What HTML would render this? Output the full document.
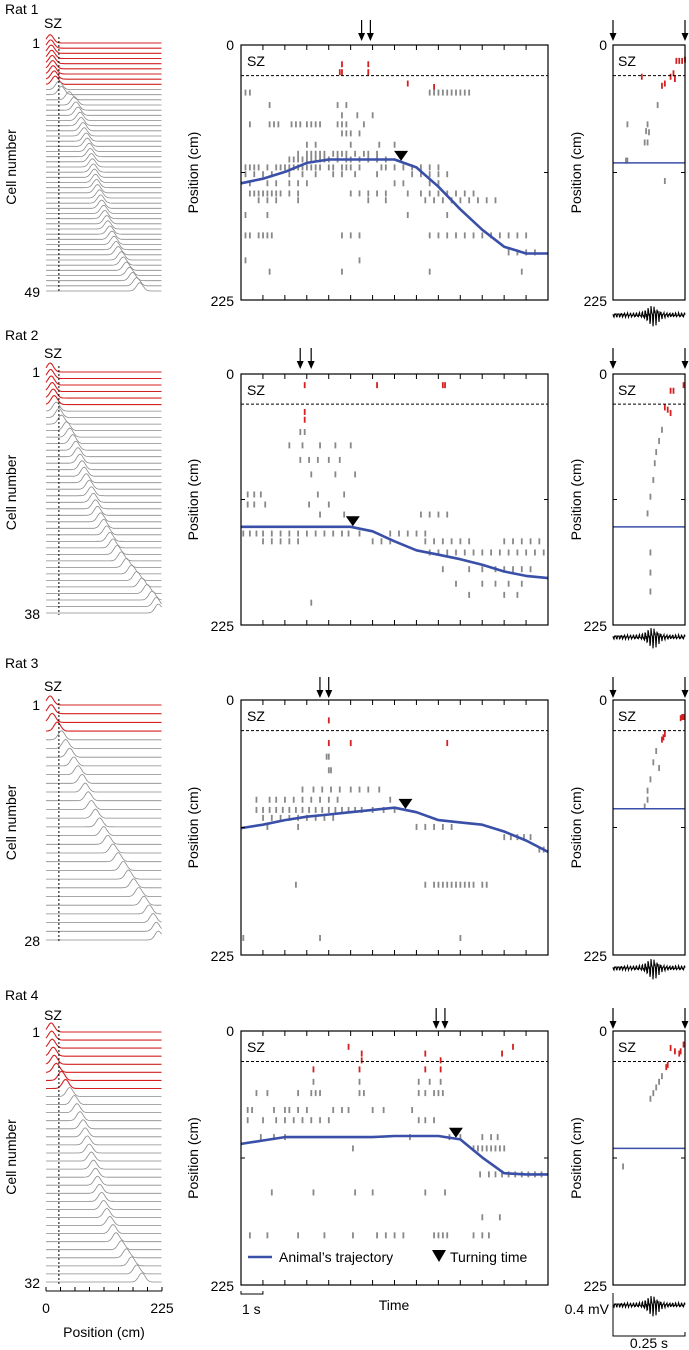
<!DOCTYPE html>
<html><head><meta charset="utf-8">
<style>
html,body{margin:0;padding:0;background:#fff;}
svg{display:block;font-family:"Liberation Sans",sans-serif;}
</style></head>
<body>
<svg id="fig" width="689" height="1350" viewBox="0 0 689 1350" xmlns="http://www.w3.org/2000/svg"></svg>
<script>
// ---------- DATA ----------
const ratNames = ["Rat 1","Rat 2","Rat 3","Rat 4"];
const cellCounts = [49,38,28,32];
const redCellCounts = [9,6,4,8];
const peaksRat1 = [8,9,10,11,12,13,14,16,18,25,30,45,55,58,62,66,68,72,74,78,80,84,86,88,90,92,94,96,98,100,104,106,108,112,114,118,120,124,128,132,136,140,146,150,156,162,168,176,182];
const peaksRat2 = [8,9,10,12,14,16,20,25,30,40,46,52,58,62,66,70,74,78,84,88,92,96,100,106,112,118,124,130,138,146,156,166,176,186,196,206,214,218];
const peaksRat3 = [8,10,12,22,30,38,46,54,62,70,76,82,88,96,104,112,120,130,140,150,160,170,180,190,200,208,214,218];
const peaksRat4 = [10,11,12,14,16,20,30,38,46,55,60,66,72,76,80,84,88,92,96,100,104,108,112,118,124,130,136,146,156,166,176,186];
const peaks = [peaksRat1,peaksRat2,peaksRat3,peaksRat4];
const trajTimes = [0,1,2,3,4,5,6,7,8,9,10,11,12,13,14];
const trajRat1 = [122,118,112,104,101,101,101,101,108,125,145,163,178,184,184];
const trajRat2 = [137,137,137,137,137,137,141,150,158,162,166,171,177,181,183];
const trajRat3 = [113,110,106,103,101,99,97,95,99,106,108,110,116,124,134];
const trajRat4 = [100,97,94,94,94,94,94,93,93,93,96,112,126,127,127];
const trajs = [trajRat1,trajRat2,trajRat3,trajRat4];
const turnTimes = [7.3,5.1,7.5,9.8];
const arrowTimes = [[5.5,5.9],[2.7,3.2],[3.6,4.0],[8.9,9.3]];
const spikesRat1 = [
[17,[4.6,5.8],'r'],[24,[4.5,4.6,5.8],'r'],[34,[7.6],'r'],[37,[8.8],'r'],
[42,[0.2,0.4,8.6,8.8,9.0,9.2,9.4,9.6,9.8,10.0,10.2,10.4]],
[53,[1.3,4.4,4.8]],[62,[4.6,5.3,6.0]],
[70,[0.4,1.3,1.5,1.7,2.3,2.5,2.7,3.0,3.2,3.4,3.6,4.4,4.6,4.8,5.6]],
[78,[4.6,4.8,5.0,5.4]],[88,[3.0,3.4,5.0,6.3,7.0]],
[96,[2.6,3.0,3.2,3.4,3.6,3.8,4.2,4.4,4.6,4.8,5.2,5.6,5.8,6.2]],
[101,[2.2,2.4,2.6,2.8,3.0,3.2,3.4,3.6,3.8,4.0,4.4,4.8,5.0,5.4,5.8,6.2,6.6]],
[108,[0.2,0.4,0.6,0.8,1.2,1.6,1.8,2.0,2.2,2.4,2.6,2.8,3.0,3.2,3.4,3.6,4.0,4.2,4.6,4.8,5.0,5.4,6.4,6.6,7.0,7.4,7.8,8.2,8.6,9.0]],
[114,[0.2,0.6,1.0,1.4,2.2,2.8,3.4,4.2,4.6,5.2,6.2,7.8,8.2,8.6,9.0,9.4]],
[122,[0.4,1.2,1.6,2.2,2.6,3.0,7.0,7.4,8.6,9.0]],
[131,[0.4,0.6,0.8,1.0,1.2,1.4,1.6,1.8,2.2,2.6,5.0,5.4,5.8,6.2,6.6,7.6,8.2,8.6,9.0,9.4,9.8,10.2,10.6]],
[137,[0.8,1.2,1.6,2.6,5.8,6.6,8.4,8.8,9.2,9.6,10.0,10.4,10.8,11.2,11.6]],
[150,[0.2,1.2,7.6,9.4]],
[168,[0.2,0.4,0.8,1.0,1.2,1.4,4.6,5.0,5.4,8.6,9.0,9.4,9.8,10.2,10.6,11.0,11.4,11.8,12.2,12.6,13.0]],
[183,[12.2,12.6,13.0,13.4]],[190,[0.2,5.4]],[200,[1.3,4.6,8.6,12.8]]];
const spikesRat2 = [
[10,[2.9,6.2,9.2,9.3],'r'],[34,[2.9],'r'],[41,[2.9],'r'],
[52,[2.7,2.9]],[64,[2.2,2.8,3.6,4.3,5.0]],[77,[2.7,3.1,3.5,4.0,4.5]],[90,[3.2,4.3,5.2]],
[108,[0.3,0.6,0.9,3.5,4.7]],[117,[0.3,0.6,1.1,3.1,4.0]],[126,[3.6,4.7,8.2,8.6,9.0,9.4]],
[143,[0.1,0.4,0.7,1.0,1.4,1.8,2.2,2.6,3.0,3.4,3.8,4.2,4.6,4.9,5.4,6.8,7.2,7.6,8.0,8.4]],
[150,[1.0,1.4,1.8,2.2,2.6,6.0,6.4,6.8,8.4,8.8,9.2,9.6,10.0,10.4,12.0,12.4,12.8,13.2,13.6]],
[160,[8.6,9.0,9.4,9.8,10.2,10.6,11.0,11.4,11.8,12.2,12.6,13.0,13.4,13.8]],
[175,[9.2,10.4,11.0,11.6,12.0,12.4,12.8,13.2]],[188,[9.8,11.0,11.6,12.2,12.8]],
[198,[10.4,12.0,12.6]],[205,[3.2]]];
const spikesRat3 = [
[18,[4.0],'r'],[38,[4.0,5.0,9.4],'r'],
[50,[3.9,4.0]],[62,[4.0,4.1]],
[79,[2.8,3.3,3.7,4.1,4.5,5.0,5.4,5.8,6.3]],
[88,[0.7,1.3,1.6,2.0,2.4,2.8,3.2,3.6,4.0,4.4,6.8]],
[97,[0.7,1.0,1.3,1.6,1.9,2.2,2.5,2.8,3.1,3.4,3.7,4.0,4.3,4.6,4.9,5.2,5.5,6.0,6.5,7.0]],
[104,[1.0,1.4,1.8,2.2,2.6,3.0,3.4,3.8,4.2]],
[112,[1.2,2.6,8.0,8.4,8.8,9.2,9.6]],[121,[12.0,12.3,12.6,12.9,13.2]],[132,[13.6,13.8]],
[163,[2.5,8.4,8.8,9.0,9.2,9.4,9.6,9.8,10.0,10.2,10.4,10.6,11.0,11.2]],
[210,[0.1,3.6,10.0]]];
const spikesRat4 = [
[14,[4.9,12.4],'r'],[20,[5.5,8.4,11.9],'r'],[26,[5.5,9.1],'r'],[34,[3.3,5.4,8.4,9.1],'r'],
[45,[3.3,5.4,8.1,8.6,9.1]],
[55,[0.7,1.2,2.6,3.2,3.4,3.6,5.4,5.6,8.1,8.4,8.8,9.0,9.2]],
[70,[0.3,0.5,1.5,2.0,2.2,2.6,3.0,4.2,4.6,4.9,6.0,6.5,7.8]],
[79,[0.3,1.0,1.6,2.0,2.4,2.8,3.2,3.6,4.0,8.1,8.4,8.8]],
[94,[0.9,1.5,2.0,7.7,9.5,10.0,11.0,11.4,11.7]],
[104,[10.6,10.8,11.0,11.2,11.4,11.6,11.8,12.0,5.1]],
[127,[10.9,11.3,11.6,11.9,12.2,12.5,12.8,13.1,13.4,13.7]],
[143,[1.4,3.3,5.2,6.0,8.4,9.3]],
[165,[11.0,11.8]],
[181,[0.4,1.2,2.6,3.8,5.1,6.2,6.6,7.0,7.4,8.8,9.0,9.2,9.4,10.6,11.0,11.3]]];
const spikes = [spikesRat1,spikesRat2,spikesRat3,spikesRat4];
const zoomRat1 = [[0.22,14,'r'],[0.23,14,'r'],[0.24,14,'r'],[0.25,13,'r'],[0.1,28,'r'],[0.2,28,'r'],[0.21,25,'r'],[0.215,30,'r'],[0.18,34,'r'],[0.17,36,'r'],[0.155,53],[0.05,70],[0.12,70],[0.115,76],[0.125,77],[0.11,86],[0.12,86],[0.045,102],[0.05,102],[0.18,120]];
const zoomRat2 = [[0.2,15,'r'],[0.21,15,'r'],[0.245,10,'r'],[0.18,30,'r'],[0.19,32,'r'],[0.2,35,'r'],[0.17,50],[0.16,60],[0.15,70],[0.145,80],[0.14,95],[0.13,110],[0.12,125],[0.13,160],[0.13,178],[0.13,195]];
const zoomRat3 = [[0.24,15,'r'],[0.245,15,'r'],[0.235,16,'r'],[0.17,35,'r'],[0.175,33,'r'],[0.18,30,'r'],[0.15,45],[0.14,55],[0.16,60],[0.13,70],[0.12,80],[0.12,88],[0.11,94]];
const zoomRat4 = [[0.2,15,'r'],[0.215,18,'r'],[0.235,18,'r'],[0.245,12,'r'],[0.23,20,'r'],[0.185,32,'r'],[0.19,30,'r'],[0.17,40],[0.16,45],[0.15,50],[0.14,55],[0.13,60],[0.035,120]];
const zooms = [zoomRat1,zoomRat2,zoomRat3,zoomRat4];
const zoomLinePos = [104,137,96,104];
const yTickLabels = ["0","225"];
const xTickLabels = ["0","225"];

// ---------- LAYOUT ----------
const L = [
 {title:14, sz:28, lt:43, lb:291, bt:45, bb:300, wave:315, arr:20},
 {title:340, sz:358, lt:372, lb:613, bt:374, bb:625, wave:637, arr:348},
 {title:668, sz:691, lt:705, lb:940, bt:700, bb:955, wave:968, arr:677},
 {title:1000, sz:1020, lt:1032, lb:1282, bt:1031, bb:1285, wave:1305, arr:1008}
];
const MX0=241, MX1=548, RX0=613, RX1=685, LX0=46, LX1=162;
const NS="http://www.w3.org/2000/svg";
const svg=document.getElementById('fig');
function el(tag, attrs, parent, txt){
  const e=document.createElementNS(NS,tag);
  for(const k in attrs) e.setAttribute(k,attrs[k]);
  if(txt!==undefined) e.textContent=txt;
  (parent||svg).appendChild(e); return e;
}
const tScale=t=>MX0+t*(MX1-MX0)/14;
const lxScale=p=>LX0+p*(LX1-LX0)/225;
const wScale=t=>RX0+t*(RX1-RX0)/0.25;
function arrow(x,y,g){
  el('line',{x1:x,y1:y,x2:x,y2:y+18,stroke:'#000','stroke-width':1.2},g);
  el('path',{d:`M${x-3.5},${y+13} L${x+3.5},${y+13} L${x},${y+21} Z`,fill:'#000'},g);
}

for(let r=0;r<4;r++){
  const c=L[r];
  const g=el('g',{});
  
  
  const ttl=el('text',{x:5,y:c.title,'font-size':14},g,ratNames[r]);
  
  
  const lg=el('g',{},g);
  
  
  const n=cellCounts[r], sp=(c.lb-c.lt)/(n-1);
  el('text',{x:44,y:c.sz,'font-size':14},lg,'SZ');
  el('text',{x:40,y:c.lt+5,'font-size':14,'text-anchor':'end'},lg,'1');
  el('text',{x:40,y:c.lb+6,'font-size':14,'text-anchor':'end'},lg,String(n));
  const amp = Math.min(9, sp*1.6);
  for(let i=0;i<n;i++){
    const y0=c.lt+i*sp, pk=peaks[r][i];
    let d='';
    for(let p=0;p<=225;p+=2){
      const h=amp*Math.exp(-Math.pow((p-pk)/9,2));
      d+=(p?'L':'M')+lxScale(p).toFixed(1)+','+(y0-h).toFixed(1);
    }
    const red=i<redCellCounts[r];
    const tr=el('path',{d:d,fill:'none',stroke:red?'#d42020':'#8a8a8a','stroke-width':red?1.1:0.8},lg);
    
    
  }
  el('line',{x1:lxScale(25),y1:c.lt-6,x2:lxScale(25),y2:c.lb+2,stroke:'#000','stroke-width':1,'stroke-dasharray':'2,2'},lg);
  const yl=el('text',{x:0,y:0,'font-size':14,'text-anchor':'middle',transform:`translate(16,${(c.lt+c.lb)/2}) rotate(-90)`},lg,'Cell number');
  
  

  const mg=el('g',{},g);
  
  
  const py=p=>c.bt+p*(c.bb-c.bt)/225;
  for(const row of spikes[r]){
    const col=row[2]==='r'?'#d42020':'#888';
    for(const t of row[1]){
      const s=el('rect',{x:tScale(t)-0.8,y:py(row[0])-3,width:1.8,height:6,fill:col},mg);
      
      
    }
  }
  let td='';
  trajTimes.forEach((t,i)=>{td+=(i?'L':'M')+tScale(t).toFixed(1)+','+py(trajs[r][i]).toFixed(1);});
  const tj=el('path',{d:td,fill:'none',stroke:'#3a4fa8','stroke-width':2.6,'stroke-linejoin':'round'},mg);
  
  
  const tt=turnTimes[r];
  let ti=Math.floor(tt); const fr=tt-ti;
  const tp=trajs[r][ti]+(trajs[r][Math.min(ti+1,14)]-trajs[r][ti])*fr;
  const tx=tScale(tt), ty=py(tp);
  const tri=el('path',{d:`M${tx-7},${ty-11} L${tx+7},${ty-11} L${tx},${ty-1} Z`,fill:'#000'},mg);
  
  
  el('rect',{x:MX0,y:c.bt,width:MX1-MX0,height:c.bb-c.bt,fill:'none',stroke:'#000','stroke-width':1.2},mg);
  el('line',{x1:MX0,y1:py(27),x2:MX1,y2:py(27),stroke:'#000','stroke-width':1,'stroke-dasharray':'3,2'},mg);
  el('text',{x:MX0+6,y:c.bt+21,'font-size':14},mg,'SZ');
  for(let k=1;k<14;k++){
    el('line',{x1:tScale(k),y1:c.bb,x2:tScale(k),y2:c.bb-5,stroke:'#000'},mg);
    el('line',{x1:tScale(k),y1:c.bt,x2:tScale(k),y2:c.bt+5,stroke:'#000'},mg);
  }
  const mid=(c.bt+c.bb)/2;
  el('line',{x1:MX0,y1:mid,x2:MX0+4,y2:mid,stroke:'#000'},mg);
  el('line',{x1:MX1,y1:mid,x2:MX1-4,y2:mid,stroke:'#000'},mg);
  el('text',{x:234,y:c.bt+5,'font-size':14,'text-anchor':'end'},mg,yTickLabels[0]);
  el('text',{x:234,y:c.bb+6,'font-size':14,'text-anchor':'end'},mg,yTickLabels[1]);
  const pl=el('text',{x:0,y:0,'font-size':14,'text-anchor':'middle',transform:`translate(198,${mid}) rotate(-90)`},mg,'Position (cm)');
  
  
  for(const a of arrowTimes[r]) arrow(tScale(a),c.arr,mg);

  const rg=el('g',{},g);
  
  
  for(const s of zooms[r]){
    const sp2=el('rect',{x:wScale(s[0])-0.9,y:py(s[1])-3,width:1.8,height:6,fill:s[2]==='r'?'#d42020':'#888'},rg);
    
    
  }
  el('line',{x1:RX0,y1:py(zoomLinePos[r]),x2:RX1,y2:py(zoomLinePos[r]),stroke:'#3a4fa8','stroke-width':1.5},rg);
  el('rect',{x:RX0,y:c.bt,width:RX1-RX0,height:c.bb-c.bt,fill:'none',stroke:'#000','stroke-width':1.2},rg);
  el('line',{x1:RX0,y1:py(27),x2:RX1,y2:py(27),stroke:'#000','stroke-dasharray':'3,2'},rg);
  el('line',{x1:RX0,y1:mid,x2:RX0+4,y2:mid,stroke:'#000'},rg);
  el('line',{x1:RX1,y1:mid,x2:RX1-4,y2:mid,stroke:'#000'},rg);
  el('text',{x:RX0+5,y:c.bt+21,'font-size':14},rg,'SZ');
  el('text',{x:607,y:c.bt+5,'font-size':14,'text-anchor':'end'},rg,yTickLabels[0]);
  el('text',{x:607,y:c.bb+6,'font-size':14,'text-anchor':'end'},rg,yTickLabels[1]);
  const rl=el('text',{x:0,y:0,'font-size':14,'text-anchor':'middle',transform:`translate(581,${mid}) rotate(-90)`},rg,'Position (cm)');
  
  
  arrow(RX0,c.arr,rg); arrow(RX1,c.arr,rg);
  let wd='';
  for(let i=0;i<=144;i++){
    const x=RX0+i*0.5, u=i/144;
    const env=2.5+10*Math.exp(-Math.pow((u-0.55)/0.1,2));
    const v=env*(Math.sin(i*2.1)*0.6+Math.sin(i*5.3+1)*0.4)*(i%2?1:-1);
    wd+=(i?'L':'M')+x.toFixed(1)+','+(c.wave+v).toFixed(1);
  }
  const wv=el('path',{d:wd,fill:'none',stroke:'#000','stroke-width':1.1},rg);
  
  
}

const bg=el('g',{});


el('line',{x1:LX0,y1:1291,x2:LX1,y2:1291,stroke:'#000'},bg);
for(let k=0;k<=8;k++){
  const x=LX0+k*(LX1-LX0)/8;
  el('line',{x1:x,y1:1291,x2:x,y2:1287,stroke:'#000'},bg);
}
el('text',{x:LX0,y:1313,'font-size':14,'text-anchor':'middle'},bg,xTickLabels[0]);
el('text',{x:LX1,y:1313,'font-size':14,'text-anchor':'middle'},bg,xTickLabels[1]);
el('text',{x:104,y:1337,'font-size':14,'text-anchor':'middle'},bg,'Position (cm)');
el('path',{d:`M${MX0},1291 L${MX0},1294 L${tScale(1)},1294 L${tScale(1)},1291`,fill:'none',stroke:'#000'},bg);
el('text',{x:242,y:1314,'font-size':14},bg,'1 s');
el('text',{x:394,y:1310,'font-size':14,'text-anchor':'middle'},bg,'Time');
el('path',{d:`M${RX0},1293 L${RX0},1336 L${RX1},1336 L${RX1},1332`,fill:'none',stroke:'#000'},bg);
el('text',{x:609,y:1314,'font-size':14,'text-anchor':'end'},bg,'0.4 mV');
el('text',{x:649,y:1348,'font-size':14,'text-anchor':'middle'},bg,'0.25 s');
const lgd=el('g',{});


el('line',{x1:248,y1:1257,x2:272,y2:1257,stroke:'#3a4fa8','stroke-width':2.6},lgd);
el('text',{x:279,y:1262,'font-size':14},lgd,"Animal\u2019s trajectory");
el('path',{d:'M432,1250 L446,1250 L439,1262 Z',fill:'#000'},lgd);
el('text',{x:450,y:1262,'font-size':14},lgd,'Turning time');
</script>
</body></html>
